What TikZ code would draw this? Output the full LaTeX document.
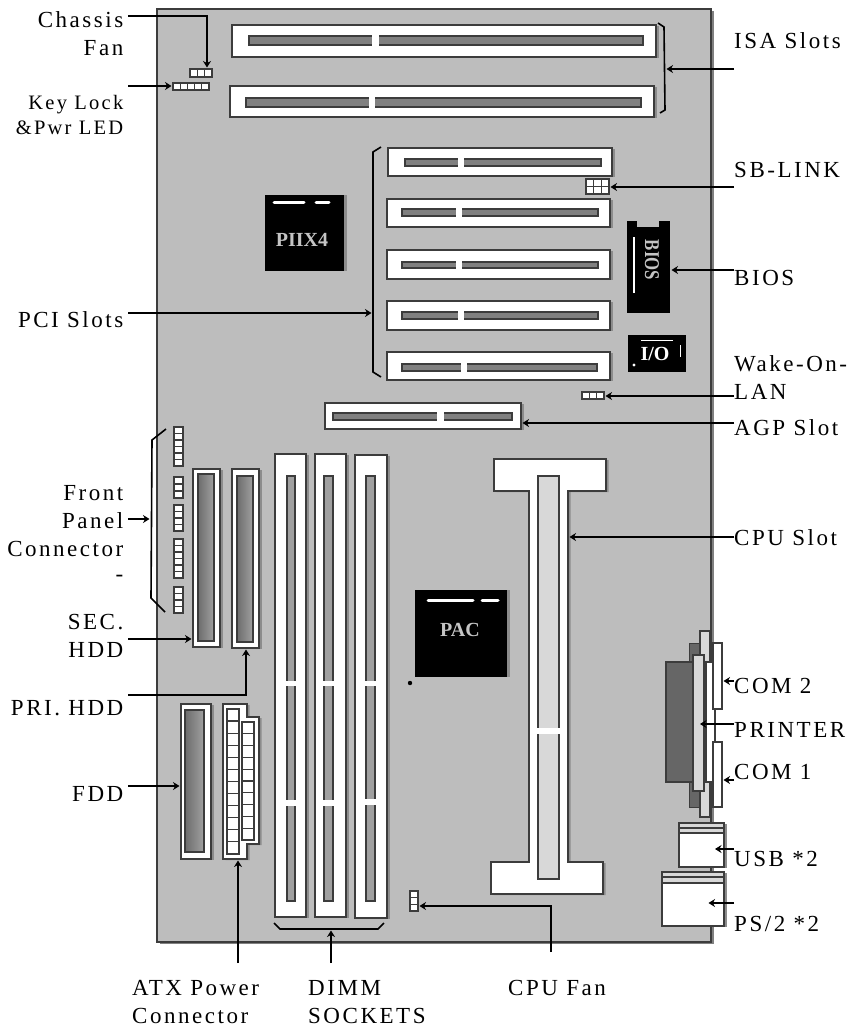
\documentclass[tikz,border=0pt]{standalone}
\usepackage{fontspec}
\setmainfont{Liberation Serif}[LetterSpace=11]
\newfontfamily\chipfont{Liberation Serif}
\usepackage{xcolor}
\usetikzlibrary{arrows.meta, fit, calc, shadows}
\definecolor{boardgray}{HTML}{BDBDBD}
\definecolor{edgegray}{HTML}{3C3C3C}
\definecolor{shadegray}{HTML}{8C8C8C}
\definecolor{bargray}{HTML}{808080}
\definecolor{dimmgray}{HTML}{A0A0A0}
\definecolor{palegray}{HTML}{D8D8D8}
\definecolor{darkgray}{HTML}{666666}
\definecolor{chiptext}{HTML}{C4C4C4}

\begin{document}
\begin{tikzpicture}[x=1pt, y=-1pt,
  % Part styles
  part/.style={inner sep=0pt, outer sep=0pt},
  slot/.style={part, draw=edgegray, line width=1.2pt, fill=white,
               drop shadow={shadow xshift=2.5pt, shadow yshift=-1pt, opacity=1, fill=shadegray}},
  bar/.style={part, draw=edgegray, line width=1.2pt, fill=bargray},
  dimmbar/.style={bar, fill=dimmgray},
  hddbar/.style={part, draw=edgegray, line width=1.2pt, left color=bargray!85!black, right color=dimmgray},
  pale/.style={part, draw=edgegray, line width=1.2pt, fill=palegray},
  gap/.style={part, fill=white},
  chip/.style={part, fill=black},
  chipshade/.style={chip, drop shadow={shadow xshift=2.5pt, shadow yshift=0pt, opacity=1, fill=shadegray}},
  chipmark/.style={line width=3pt, line cap=round, white},
  hdr/.style={part},
  pin/.style={draw=edgegray, line width=1.2pt, fill=white},
  % Label styles
  leftlbl/.style={inner xsep=4.5pt, inner ysep=0pt, align=right, anchor=base east,
                  font=\fontsize{23}{28}\selectfont},
  rightlbl/.style={inner xsep=0pt, inner ysep=0pt, align=left, anchor=base west,
                   font=\fontsize{23}{28}\selectfont},
  % Arrow styles
  arr/.style={-{Stealth[length=6.5pt, width=8pt]}, line width=2pt, shorten >=1.5pt},
  brace/.style={line width=1.6pt},
]
  \useasboundingbox (0,0) rectangle (854,1028);

  % -- Board --
  \node[part, fill=boardgray, draw=edgegray, line width=1.4pt,
        drop shadow={shadow xshift=2.5pt, shadow yshift=-1.5pt, opacity=1, fill=bargray},
        fit={(157,9) (711,942)}] (board) {};

  % -- ISA slots --
  \node[slot, fit={(232,25) (656,57)}] (isaA) {};
  \node[bar, fit={(249,36) (643,45)}] (isaAbar) {};
  \node[gap, fit={(372,34) (379,47)}] (isaAgap) {};
  \node[slot, fit={(230,86) (654,117)}] (isaB) {};
  \node[bar, fit={(246,98) (641,107)}] (isaBbar) {};
  \node[gap, fit={(369,96) (375,109)}] (isaBgap) {};
  \draw[brace] (658,23) -- (664,27) -- (665,110) -- (660,113);
  \coordinate (isaBrace) at (665,69);

  % -- PCI slots --
  \node[slot, fit={(388,148) (612,176)}] (pciA) {};
  \node[bar, fit={(405,159) (601,166)}] (pciAbar) {};
  \node[gap, fit={(458,157) (464,168)}] (pciAgap) {};
  \node[slot, fit={(387,199) (610,227)}] (pciB) {};
  \node[bar, fit={(402,209) (598,216)}] (pciBbar) {};
  \node[gap, fit={(456,207) (462,218)}] (pciBgap) {};
  \node[slot, fit={(387,250) (610,279)}] (pciC) {};
  \node[bar, fit={(402,262) (598,268)}] (pciCbar) {};
  \node[gap, fit={(456,260) (462,270)}] (pciCgap) {};
  \node[slot, fit={(387,301) (610,330)}] (pciD) {};
  \node[bar, fit={(402,312) (598,319)}] (pciDbar) {};
  \node[gap, fit={(458,310) (464,321)}] (pciDgap) {};
  \node[slot, fit={(387,352) (610,380)}] (pciE) {};
  \node[bar, fit={(402,364) (597,371)}] (pciEbar) {};
  \node[gap, fit={(461,362) (467,373)}] (pciEgap) {};
  \draw[brace] (381,147) -- (373,152) -- (373,372) -- (381,377);
  \coordinate (pciBrace) at (373,313);

  % -- AGP slot --
  \node[slot, fit={(325,403) (521,429)}] (agp) {};
  \node[bar, fit={(333,413) (512,420)}] (agpbar) {};
  \node[gap, fit={(437,411) (444,422)}] (agpgap) {};

  % -- Small headers --
  \node[hdr, fit={(190,69) (212,77)}] (chassisHdr) {};
  \foreach \i in {0,1,2} \draw[pin] ({190+\i*7.33},69) rectangle ++(7.33,8);
  \node[hdr, fit={(173,83) (209,90)}] (keyHdr) {};
  \foreach \i in {0,...,4} \draw[pin] ({173+\i*7.2},83) rectangle ++(7.2,7);
  \node[hdr, fit={(586,179) (609,194)}] (sbHdr) {};
  \foreach \i in {0,1,2} \foreach \j in {0,1} \draw[pin] ({586+\i*7.67},{179+\j*7.5}) rectangle ++(7.67,7.5);
  \node[hdr, fit={(582,392) (604,399)}] (wakeHdr) {};
  \foreach \i in {0,1,2} \draw[pin] ({582+\i*7.33},392) rectangle ++(7.33,7);
  \node[hdr, fit={(410,891) (418,911)}] (fanHdr) {};
  \foreach \i in {0,1,2} \draw[pin] (410,{891+\i*6.67}) rectangle ++(8,6.67);

  % -- Front panel pins --
  \foreach \i in {0,...,5} \draw[pin] (174,{427+\i*6.5}) rectangle ++(9,6.5);
  \foreach \i in {0,1,2} \draw[pin] (174,{477+\i*7}) rectangle ++(9,7);
  \foreach \i in {0,...,3} \draw[pin] (174,{505+\i*6.5}) rectangle ++(9,6.5);
  \foreach \i in {0,...,5} \draw[pin] (174,{539+\i*6.5}) rectangle ++(9,6.5);
  \foreach \i in {0,...,3} \draw[pin] (174,{587+\i*6.5}) rectangle ++(9,6.5);
  \draw[brace] (166,429) -- (152,440) -- (151,598) -- (165,612);
  \coordinate (panelBrace) at (151,519);

  % -- Chips --
  \node[chipshade, fit={(265,195) (344,271)}] (piix) {};
  \draw[chipmark] (274,202) -- (304,202);
  \draw[chipmark] (316,202) -- (329,202);
  \node[part, text=chiptext] at (302,240) (piixText) {\chipfont\bfseries\fontsize{20}{20}\selectfont PIIX4};

  \node[chip, fit={(627,227) (670,313)}] (bios) {};
  \node[chip, fit={(627,221) (637,228)}] (biosTabA) {};
  \node[chip, fit={(659,221) (670,228)}] (biosTabB) {};
  \draw[line width=1.2pt, white] (634,237) -- (634,293);
  \node[part, text=chiptext, rotate=-90, xscale=0.8] at (652,260) (biosText) {\chipfont\bfseries\fontsize{21}{21}\selectfont BIOS};

  \node[chip, fit={(628,335) (686,372)}] (io) {};
  \draw[line width=1pt, white] (641,340) -- (673,340);
  \draw[line width=1pt, white] (680,345) -- (680,357);
  \fill[white] (634,365) circle (1.6);
  \node[part, text=white] at (655,354) (ioText) {\chipfont\bfseries\fontsize{20}{20}\selectfont I/O};

  \node[chipshade, fit={(415,590) (507,677)}] (pac) {};
  \draw[chipmark] (428,600) -- (473,600);
  \draw[chipmark] (482,600) -- (498,600);
  \node[part, text=chiptext] at (460,630) (pacText) {\chipfont\bfseries\fontsize{20}{20}\selectfont PAC};
  \fill (410,683) circle (2.2);

  % -- HDD and FDD --
  \node[slot, fit={(193,469) (220,647)}] (secHdd) {};
  \node[hddbar, fit={(198,474) (214,641)}] (secBar) {};
  \node[slot, fit={(232,469) (259,648)}] (priHdd) {};
  \node[hddbar, fit={(237,476) (253,642)}] (priBar) {};
  \node[slot, fit={(181,704) (211,859)}] (fdd) {};
  \node[hddbar, fit={(185,710) (204,852)}] (fddBar) {};

  % -- ATX power --
  \draw[line width=1.2pt, draw=edgegray, fill=white,
        drop shadow={shadow xshift=2.5pt, shadow yshift=-1pt, opacity=1, fill=shadegray}]
    (223,704) -- (247,704) -- (247,717) -- (259,717) -- (259,844) -- (247,844) -- (247,859) -- (223,859) -- cycle;
  \coordinate (atxPwr) at (238,859);
  \foreach \i in {0,...,11} \draw[pin] (227,{709+\i*12.08}) rectangle ++(12,12.08);
  \foreach \i in {0,...,9} \draw[pin] (242,{722+\i*11.8}) rectangle ++(12,11.8);

  % -- DIMM sockets --
  \node[slot, fit={(275,454) (306,917)}] (dimmA) {};
  \node[dimmbar, fit={(287,476) (295,901)}] (dimmAbar) {};
  \node[gap, fit={(285,681) (297,686)}] (dimmAgapA) {};
  \node[gap, fit={(285,800) (297,806)}] (dimmAgapB) {};
  \node[slot, fit={(315,454) (346,917)}] (dimmB) {};
  \node[dimmbar, fit={(324,476) (333,901)}] (dimmBbar) {};
  \node[gap, fit={(322,681) (335,686)}] (dimmBgapA) {};
  \node[gap, fit={(322,800) (335,806)}] (dimmBgapB) {};
  \node[slot, fit={(355,455) (387,918)}] (dimmC) {};
  \node[dimmbar, fit={(366,476) (375,901)}] (dimmCbar) {};
  \node[gap, fit={(364,681) (377,686)}] (dimmCgapA) {};
  \node[gap, fit={(364,799) (377,805)}] (dimmCgapB) {};
  \draw[brace] (274,923) -- (280,929) -- (378,929) -- (384,923);
  \coordinate (dimmBrace) at (331,929);

  % -- CPU slot --
  \draw[line width=1.2pt, draw=edgegray, fill=white,
        drop shadow={shadow xshift=2.5pt, shadow yshift=-1pt, opacity=1, fill=shadegray}]
    (494,459) -- (606,459) -- (606,491) -- (568,491) -- (568,862) -- (603,862) -- (603,894)
    -- (491,894) -- (491,862) -- (529,862) -- (529,491) -- (494,491) -- cycle;
  \coordinate (cpuSlot) at (568,537);
  \node[pale, fit={(538,476) (559,879)}] (cpuBar) {};
  \node[gap, fit={(536,728) (561,734)}] (cpuGap) {};

  % -- Rear connectors --
  \node[part, draw=edgegray, fill=darkgray, fit={(689,643) (701,807)}] (rearBack) {};
  \node[pale, fit={(700,631) (710,817)}] (rearPlate) {};
  \node[part, draw=edgegray, line width=1.2pt, fill=darkgray, fit={(666,662) (693,782)}] (prnBody) {};
  \node[part, draw=edgegray, line width=1.2pt, fill=white, fit={(706,662) (715,782)}] (prnFront) {};
  \node[pale, fit={(693,655) (704,791)}] (prnPlate) {};
  \node[part, draw=edgegray, line width=1.2pt, fill=white, fit={(713,643) (722,709)}] (comB) {};
  \node[part, draw=edgegray, line width=1.2pt, fill=white, fit={(713,742) (722,807)}] (comA) {};
  \node[slot, fit={(679,823) (724,867)}] (usb) {};
  \node[pale, fit={(679,823) (724,828)}] (usbBandA) {};
  \node[pale, fit={(679,828) (724,833)}] (usbBandB) {};
  \node[slot, fit={(662,872) (724,926)}] (ps2) {};
  \node[pale, fit={(662,872) (724,877)}] (ps2BandA) {};
  \node[pale, fit={(662,877) (724,883)}] (ps2BandB) {};

  % -- Left labels --
  \node[leftlbl] at (128,55) (chassisLbl) {Chassis\\Fan};
  \node[leftlbl, font=\fontsize{20.5}{25}\selectfont] at (128,134) (keyLbl) {Key Lock\\\&Pwr LED};
  \node[leftlbl] at (128,327) (pciLbl) {PCI Slots};
  \node[leftlbl] at (128,581) (panelLbl) {Front\\Panel\\Connector\\[-3pt]-};
  \node[leftlbl] at (128,657) (secLbl) {SEC.\\HDD};
  \node[leftlbl] at (128,715) (priLbl) {PRI. HDD};
  \node[leftlbl] at (128,801) (fddLbl) {FDD};

  % -- Right labels --
  \node[rightlbl] at (734,48) (isaLbl) {ISA Slots};
  \node[rightlbl] at (734,177) (sbLbl) {SB-LINK};
  \node[rightlbl] at (734,285) (biosLbl) {BIOS};
  \node[rightlbl] at (734,399) (wakeLbl) {Wake-On-\\LAN};
  \node[rightlbl] at (734,435) (agpLbl) {AGP Slot};
  \node[rightlbl] at (734,545) (cpuLbl) {CPU Slot};
  \node[rightlbl] at (734,693) (comBLbl) {COM 2};
  \node[rightlbl] at (734,737) (prnLbl) {PRINTER};
  \node[rightlbl] at (734,779) (comALbl) {COM 1};
  \node[rightlbl] at (734,866) (usbLbl) {USB *2};
  \node[rightlbl] at (734,931) (ps2Lbl) {PS/2 *2};

  % -- Bottom labels --
  \node[rightlbl] at (132,1023) (atxLbl) {ATX Power\\Connector};
  \node[rightlbl] at (308,1023) (dimmLbl) {DIMM\\SOCKETS};
  \node[rightlbl] at (508,995) (fanLbl) {CPU Fan};

  % -- Arrows: left side --
  \draw[arr] ([yshift=39]chassisLbl.base east) -| ([xshift=6]chassisHdr.north);
  \draw[arr] ([yshift=48]keyLbl.base east) coordinate (keyFrom) -- (keyFrom -| keyHdr.west);
  \draw[arr] ([yshift=14]pciLbl.base east) coordinate (pciFrom) -- (pciFrom -| pciBrace);
  \draw[arr] ([yshift=62]panelLbl.base east) coordinate (panelFrom) -- (panelFrom -| panelBrace);
  \draw[arr] ([yshift=18]secLbl.base east) coordinate (secFrom) -- (secFrom -| secHdd.west);
  \draw[arr] ([yshift=20]priLbl.base east) -| ([xshift=0.5]priHdd.south);
  \draw[arr] ([yshift=15]fddLbl.base east) coordinate (fddFrom) -- (fddFrom -| fdd.west);

  % -- Arrows: right side --
  \draw[arr] ([yshift=-21]isaLbl.base west) coordinate (isaFrom) -- (isaFrom -| isaBrace);
  \draw[arr] ([yshift=-10]sbLbl.base west) coordinate (sbFrom) -- (sbFrom -| sbHdr.east);
  \draw[arr] ([yshift=15]biosLbl.base west) coordinate (biosFrom) -- (biosFrom -| bios.east);
  \draw[arr] ([yshift=3]wakeLbl.base west) coordinate (wakeFrom) -- (wakeFrom -| wakeHdr.east);
  \draw[arr] ([yshift=12]agpLbl.base west) coordinate (agpFrom) -- (agpFrom -| agp.east);
  \draw[arr] ([yshift=8]cpuLbl.base west) coordinate (cpuFrom) -- (cpuFrom -| cpuSlot);
  \draw[arr] ([yshift=12]comBLbl.base west) coordinate (comBFrom) -- (comBFrom -| comB.east);
  \draw[arr] ([yshift=13]prnLbl.base west) coordinate (prnFrom) -- (prnFrom -| prnPlate.center);
  \draw[arr] ([yshift=-1]comALbl.base west) coordinate (comAFrom) -- (comAFrom -| comA.east);
  \draw[arr] ([yshift=17]usbLbl.base west) coordinate (usbFrom) -- (usbFrom -| {$(usb.center)+(12,0)$});
  \draw[arr] ([yshift=28]ps2Lbl.base west) coordinate (ps2From) -- (ps2From -| {$(ps2.center)+(14,0)$});

  % -- Arrows: bottom --
  \draw[arr] ([xshift=106, yshift=60]atxLbl.base west) coordinate (atxFrom) -- (atxFrom |- atxPwr);
  \draw[arr] ([xshift=23, yshift=60]dimmLbl.base west) coordinate (dimmFrom) -- (dimmFrom |- dimmBrace);
  \draw[arr] ([xshift=43, yshift=43]fanLbl.base west) |- ([yshift=-5]fanHdr.east);
\end{tikzpicture}
\end{document}
